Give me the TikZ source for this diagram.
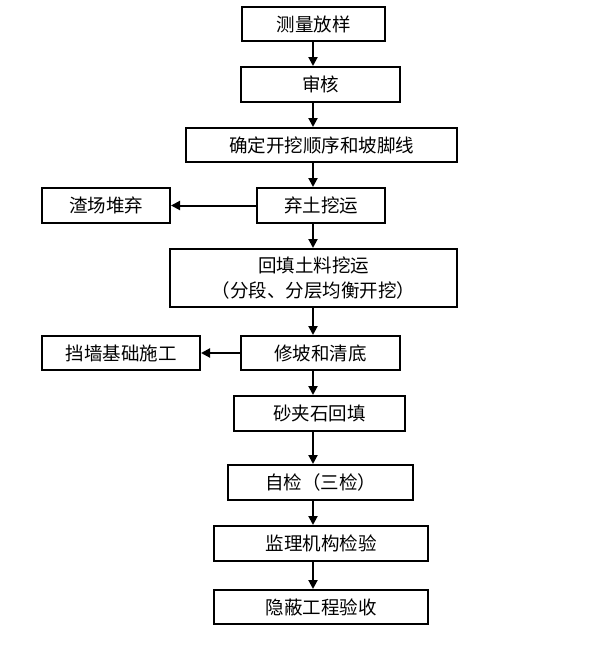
\documentclass[tikz,border=0pt]{standalone}
\usepackage{fontspec}
\newfontfamily\cjk{Noto Sans CJK SC}
\usetikzlibrary{arrows.meta}
\begin{document}
\begin{tikzpicture}[x=1pt,y=-1pt,
  box/.style={draw=black, line width=2pt, rectangle, inner sep=0pt, font=\cjk\fontsize{18.5}{25}\selectfont, align=center},
  arr/.style={line width=2pt, -{Triangle[length=9pt,width=9pt]}}]
\useasboundingbox (0,0) rectangle (615,648);
\node[box, minimum width=143pt, minimum height=34pt] (b1) at (313.5,24) {测量放样};
\node[box, minimum width=159pt, minimum height=35pt] (b2) at (320.5,84.5) {审核};
\node[box, minimum width=271pt, minimum height=34pt] (b3) at (321.5,145) {确定开挖顺序和坡脚线};
\node[box, minimum width=128pt, minimum height=35pt] (b4) at (321,205.5) {弃土挖运};
\node[box, minimum width=128pt, minimum height=35pt] (b5) at (106,205.5) {渣场堆弃};
\node[box, minimum width=287pt, minimum height=58pt] (b6) at (313.5,278) {回填土料挖运\\（分段、分层均衡开挖）};
\node[box, minimum width=159pt, minimum height=34pt] (b7) at (320.5,353) {修坡和清底};
\node[box, minimum width=158pt, minimum height=34pt] (b8) at (121,353) {挡墙基础施工};
\node[box, minimum width=171pt, minimum height=35pt] (b9) at (319.5,413.5) {砂夹石回填};
\node[box, minimum width=185pt, minimum height=35pt] (b10) at (320.5,482.5) {自检（三检）};
\node[box, minimum width=214pt, minimum height=35pt] (b11) at (321,543.5) {监理机构检验};
\node[box, minimum width=214pt, minimum height=34pt] (b12) at (321,607) {隐蔽工程验收};
\coordinate (ax) at (313,0);
\foreach \a/\b in {b1/b2,b2/b3,b3/b4,b4/b6,b6/b7,b7/b9,b9/b10,b10/b11,b11/b12}
  \draw[arr] (\a.south -| ax) -- (\b.north -| ax);
\draw[arr] (b4.west) -- (b5.east);
\draw[arr] (b7.west) -- (b8.east);
\end{tikzpicture}
\end{document}
